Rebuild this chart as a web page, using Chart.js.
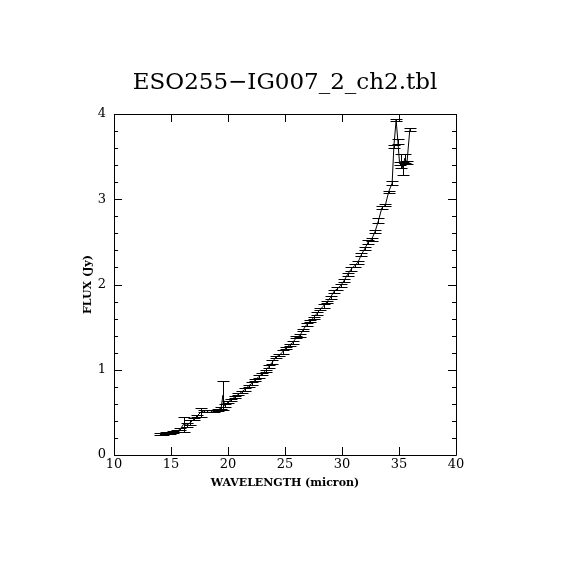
<!DOCTYPE html>
<html>
<head>
<meta charset="utf-8">
<script src="https://cdn.jsdelivr.net/npm/chart.js@4/dist/chart.umd.min.js"></script>
<style>
  html, body { margin:0; padding:0; background:#fff; }
  canvas { display:block; }
</style>
</head>
<body>
<canvas id="chart" width="570" height="570"></canvas>
<script>
// data
const wavelength = [14.0,14.3,14.6,14.9,15.2,15.5,15.8,16.1,16.4,16.7,17.0,17.3,17.6,17.9,18.2,18.5,18.8,19.1,19.4,19.55,19.7,
  20.0,20.3,20.6,20.9,21.2,21.5,21.8,22.1,22.4,22.7,23.0,23.3,23.6,23.9,24.2,24.5,24.8,25.1,25.4,25.7,
  26.0,26.3,26.6,26.9,27.2,27.5,27.8,28.1,28.4,28.7,29.0,29.3,29.6,29.9,30.2,30.5,30.8,31.1,31.4,31.7,
  32.0,32.3,32.6,32.9,33.2,33.5,33.8,34.1,34.4,34.55,34.75,34.9,35.05,35.2,35.35,35.5,35.7,35.95];
const flux = [0.25,0.25,0.26,0.26,0.27,0.28,0.30,0.36,0.35,0.38,0.42,0.46,0.50,0.52,0.52,0.52,0.52,0.53,0.55,0.70,0.58,
  0.62,0.65,0.68,0.71,0.74,0.77,0.81,0.84,0.88,0.92,0.95,0.99,1.04,1.09,1.15,1.17,1.21,1.26,1.29,1.32,
  1.38,1.40,1.47,1.53,1.57,1.61,1.66,1.71,1.75,1.80,1.85,1.92,1.95,1.99,2.05,2.12,2.18,2.22,2.26,2.35,
  2.42,2.50,2.53,2.62,2.75,2.90,2.93,3.09,3.19,3.62,3.93,3.68,3.42,3.45,3.36,3.48,3.43,3.82];
const fluxErr = [0.01,0.01,0.01,0.01,0.01,0.012,0.012,0.09,0.02,0.03,0.015,0.015,0.05,0.012,0.012,0.012,0.012,0.012,0.015,0.17,0.015,
  0.012,0.012,0.012,0.012,0.012,0.015,0.012,0.02,0.012,0.02,0.012,0.012,0.015,0.02,0.012,0.012,0.02,0.012,0.012,0.02,
  0.012,0.02,0.012,0.02,0.015,0.012,0.02,0.012,0.02,0.012,0.02,0.015,0.02,0.015,0.02,0.015,0.02,0.015,0.02,0.02,
  0.015,0.02,0.015,0.02,0.03,0.015,0.015,0.012,0.02,0.02,0.01,0.03,0.02,0.08,0.08,0.05,0.02,0.02];

const xTicks = [10,15,20,25,30,35,40];
const yTicks = [0,1,2,3,4];

const SERIF = '"DejaVu Serif", "Liberation Serif", serif';

// error bars drawn through the chart scales
const errorBars = {
  id:'errorBars',
  afterDatasetsDraw(chart){
    const {ctx, scales:{x, y}} = chart;
    ctx.save();
    ctx.strokeStyle = '#000';
    ctx.lineWidth = 1;
    ctx.beginPath();
    wavelength.forEach((w,i)=>{
      const px = Math.round(x.getPixelForValue(w)) + 0.5;
      const hi = Math.round(y.getPixelForValue(flux[i] + fluxErr[i])) + 0.5;
      const lo = Math.round(y.getPixelForValue(flux[i] - fluxErr[i])) + 0.5;
      ctx.moveTo(px, hi); ctx.lineTo(px, lo);
      ctx.moveTo(px-6, hi); ctx.lineTo(px+6, hi);
      ctx.moveTo(px-6, lo); ctx.lineTo(px+6, lo);
    });
    ctx.stroke();
    ctx.restore();
  }
};

// box frame with inward ticks on all four sides
const frame = {
  id:'frame',
  afterDraw(chart){
    const {ctx, chartArea:a, scales:{x, y}} = chart;
    ctx.save();
    ctx.strokeStyle = '#000';
    ctx.lineWidth = 1;
    ctx.beginPath();
    ctx.rect(Math.round(a.left)+0.5, Math.round(a.top)+0.5, Math.round(a.right-a.left), Math.round(a.bottom-a.top));
    xTicks.forEach(v=>{
      const px = Math.round(x.getPixelForValue(v)) + 0.5;
      ctx.moveTo(px, a.bottom); ctx.lineTo(px, a.bottom-8);
      ctx.moveTo(px, a.top); ctx.lineTo(px, a.top+8);
    });
    for(let v=0; v<=4.001; v+=0.2){
      const py = Math.round(y.getPixelForValue(v)) + 0.5;
      const major = Math.abs(v - Math.round(v)) < 0.01;
      const len = major ? 8 : 4;
      ctx.moveTo(a.left, py); ctx.lineTo(a.left+len, py);
      ctx.moveTo(a.right, py); ctx.lineTo(a.right-len, py);
    }
    ctx.stroke();
    ctx.restore();
  }
};

new Chart(document.getElementById('chart'), {
  type:'line',
  data:{
    datasets:[{
      data: wavelength.map((w,i)=>({x:w, y:flux[i]})),
      borderColor:'#000',
      borderWidth:1,
      pointRadius:0,
      tension:0,
      fill:false
    }]
  },
  options:{
    responsive:false,
    animation:false,
    layout:{ padding:0 },
    plugins:{
      legend:{ display:false },
      tooltip:{ enabled:false },
      title:{
        display:true,
        text:'ESO255\u2212IG007_2_ch2.tbl',
        color:'#000',
        font:{ family:SERIF, size:23, weight:'normal', lineHeight:1.2 },
        padding:{ top:69, bottom:17.4 }
      }
    },
    scales:{
      x:{
        type:'linear', min:10, max:40,
        afterFit(s){ s.height = 115; },
        afterBuildTicks(s){ s.ticks = xTicks.map(v=>({value:v})); },
        grid:{ display:false, drawTicks:false },
        border:{ display:false },
        ticks:{ color:'#000', padding:2, maxRotation:0, font:{ family:SERIF, size:13 } },
        title:{ display:true, text:'WAVELENGTH (micron)', color:'#000',
          font:{ family:SERIF, size:11, weight:'bold' }, padding:{ top:0, bottom:80 } }
      },
      y:{
        type:'linear', min:0, max:4,
        afterFit(s){ s.width = 114; },
        afterBuildTicks(s){ s.ticks = yTicks.map(v=>({value:v})); },
        grid:{ display:false, drawTicks:false },
        border:{ display:false },
        ticks:{ color:'#000', padding:8, font:{ family:SERIF, size:13 } },
        title:{ display:true, text:'FLUX (Jy)', color:'#000',
          font:{ family:SERIF, size:11, weight:'bold' }, padding:{ top:82, bottom:0 } }
      },
      // empty right-hand axis only to reserve the right margin
      y2:{
        type:'linear', position:'right', min:0, max:4,
        afterFit(s){ s.width = 114; },
        grid:{ display:false, drawTicks:false },
        border:{ display:false },
        ticks:{ display:false }
      }
    }
  },
  plugins:[errorBars, frame]
});
</script>
</body>
</html>
